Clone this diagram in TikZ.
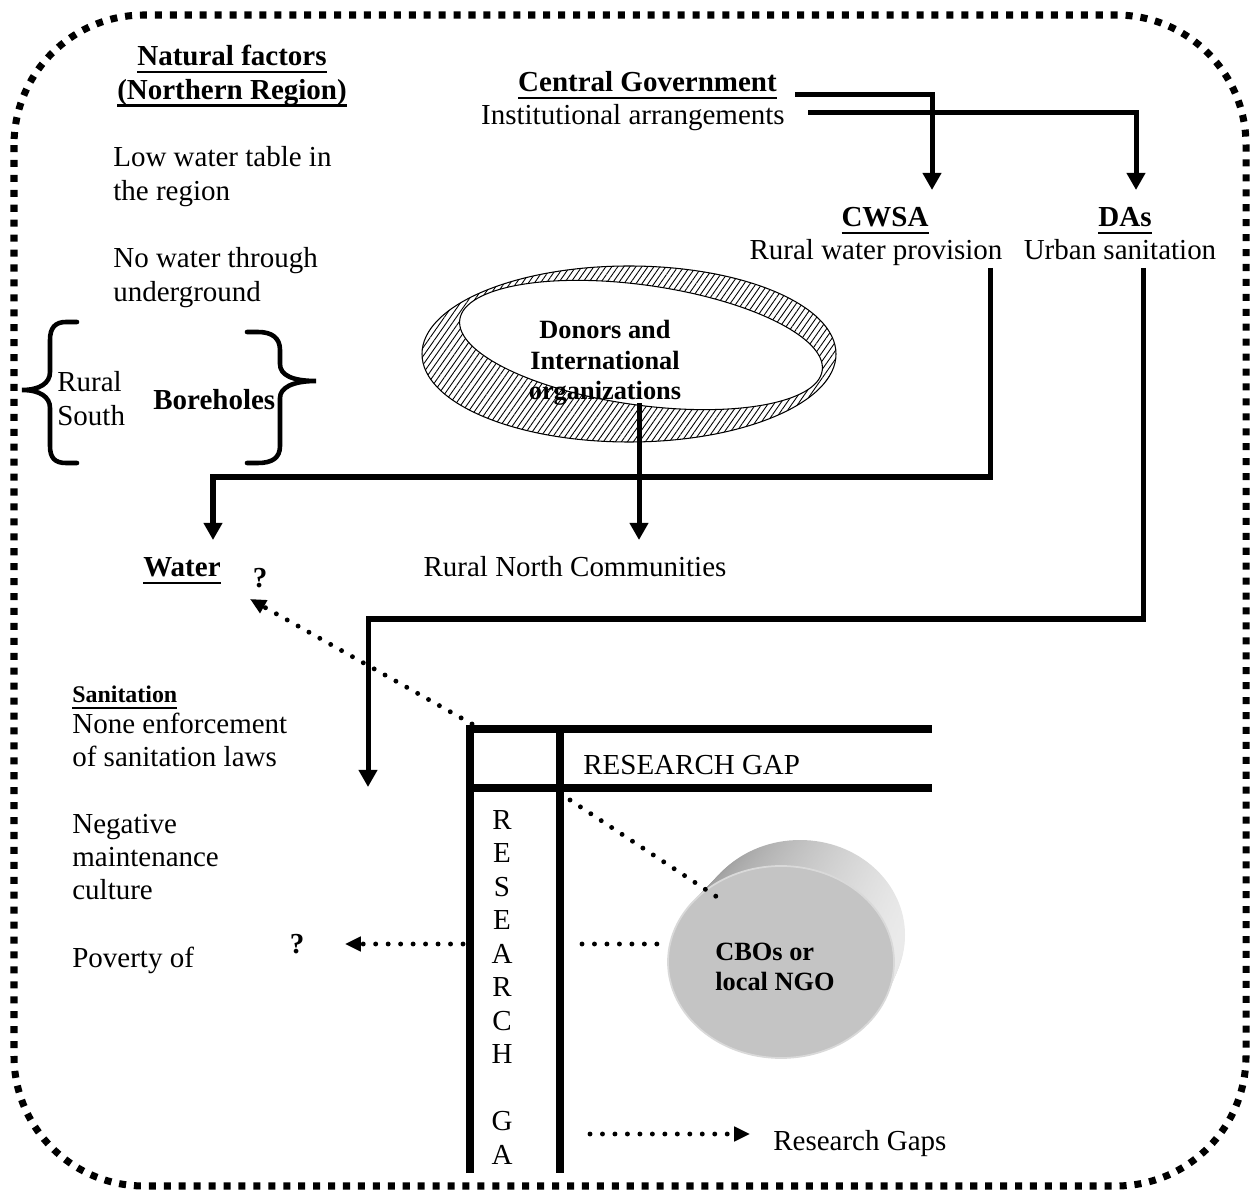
\documentclass[tikz,border=0pt]{standalone}
\usepackage{fontspec}
\setmainfont{Liberation Serif}
\usetikzlibrary{arrows.meta,patterns.meta}

% underlined text with a heavier rule
\newcommand{\ulbox}[1]{\setbox0=\hbox{#1}\rlap{\rule[-4.1pt]{\wd0}{1.5pt}}\box0}
% stacked lines whose baseline is the first line
\newcommand{\ltext}[1]{\vtop{\halign{##\hfil\cr#1\crcr}}}
\newcommand{\ctext}[1]{\vtop{\halign{\hfil##\hfil\cr#1\crcr}}}

\begin{document}
\begin{tikzpicture}[x=0.02cm, y=-0.02cm,
  txt/.style={inner sep=0pt, font=\fontsize{16.5}{19}\selectfont},
  btxt/.style={inner sep=0pt, font=\fontsize{16.5}{19}\selectfont\bfseries},
  sbold/.style={inner sep=0pt, font=\fontsize{15}{17.1}\selectfont\bfseries},
  conn/.style={line width=2.85pt},
  arr/.style={-{Triangle[length=9.7pt,width=10.2pt]}},
  dots/.style={line width=2.8pt, line cap=round, dash pattern=on 0pt off 7.1pt},
  dtip/.style={-{Triangle[length=9pt,width=8pt]}},
  frame/.style={line width=4pt},
  brace/.style={line width=2.6pt, line cap=round},
  border/.style={line width=4pt, dash pattern=on 4pt off 4.5pt, rounded corners=74pt}]

\useasboundingbox (0,0) rectangle (1251,1192);

% outer dotted boundary
\draw[border] (14,15) rectangle (1246,1186);

% ---- natural factors column
\node[btxt, anchor=base] (nat) at (232,66)
  {\ctext{\ulbox{Natural factors}\cr\ulbox{(Northern Region)}}};
\node[txt, anchor=base west] (low) at (113,167) {\ltext{Low water table in\cr the region}};
\node[txt, anchor=base west] (nowater) at (113,268) {\ltext{No water through\cr underground}};
\node[txt, anchor=base west] (rs) at (57,392) {\ltext{Rural\cr South}};
\node[btxt, anchor=base west] (bore) at (153,410) {Boreholes};

% curly brackets round the borehole group
\draw[brace] (77,322) -- (66,322) .. controls (55,322) and (50,328) .. (50,340)
  -- (50,372) .. controls (50,383) and (40,390) .. (22,390)
  .. controls (40,390) and (50,397) .. (50,408)
  -- (50,446) .. controls (50,458) and (55,463) .. (66,463) -- (77,463);
\draw[brace] (247,332) -- (258,332) .. controls (272,332) and (280,338) .. (280,350)
  -- (280,364) .. controls (280,375) and (292,381) .. (316,381)
  .. controls (292,381) and (280,388) .. (280,398)
  -- (280,446) .. controls (280,458) and (272,463) .. (258,463) -- (247,463);

% ---- government and agencies
\node[btxt, anchor=base east] (cg) at (777,92) {\ulbox{Central Government}};
\node[txt, anchor=base east] (inst) at (785,125) {Institutional arrangements};
\node[btxt, anchor=base] (cwsa) at (885,227) {\ulbox{CWSA}};
\node[txt, anchor=base] (cwsat) at (876,260) {Rural water provision};
\node[btxt, anchor=base] (das) at (1125,227) {\ulbox{DAs}};
\node[txt, anchor=base] (dast) at (1120,260) {Urban sanitation};

\coordinate (cg-out) at (795,95);
\coordinate (inst-out) at (808,113);
\coordinate (cwsa-in) at (932,190);
\coordinate (das-in) at (1136,190);
\coordinate (cwsa-out) at (990,268);
\coordinate (das-out) at (1143,268);
\coordinate (water-in) at (213,540);
\coordinate (san-in) at (368,787);

\draw[conn, arr] (cg-out) -| (cwsa-in);
\draw[conn, arr] (inst-out) -| (das-in);

% ---- donors ring
\path[pattern={Lines[angle=55, distance=2.8pt, line width=0.5pt]}, even odd rule]
  (629,354) ellipse[x radius=207, y radius=88]
  [rotate around={-8:(641,345)}] (641,345) ellipse[x radius=183, y radius=60];
\draw[line width=0.6pt] (629,354) ellipse[x radius=207, y radius=88];
\draw[line width=0.6pt, rotate around={-8:(641,345)}] (641,345) ellipse[x radius=183, y radius=60];
\node[sbold, anchor=base] (donors) at (605,339) {\ctext{Donors and\cr International\cr organizations}};
\coordinate (donors-out) at (639,403);
\coordinate (rnc-in) at (639,540);

\node[txt, anchor=base] (rnc) at (575,577) {Rural North Communities};
\node[btxt, anchor=base west] (water) at (143,577) {\ulbox{Water}};
\node[btxt, anchor=base] (q1) at (260,587) {?};

\draw[conn, arr] (cwsa-out) -- ++(0,209) -| (water-in);
\draw[conn, arr] (das-out) -- ++(0,351) -| (san-in);
\draw[conn, arr] (donors-out) -- (rnc-in);

% ---- sanitation column
\node[inner sep=0pt, font=\fontsize{13.6}{16}\selectfont\bfseries, anchor=base west] (sanh) at (72,702) {\ulbox{Sanitation}};
\node[txt, anchor=base west] (none) at (72,733) {\ltext{None enforcement\cr of sanitation laws}};
\node[txt, anchor=base west] (neg) at (72,833) {\ltext{Negative\cr maintenance\cr culture}};
\node[txt, anchor=base west] (pov) at (72,967) {Poverty of};
\node[btxt, anchor=base] (q2) at (297,953) {?};

% ---- research gap frame
\coordinate (rg-tl) at (470,729);
\draw[frame] (470,1173) -- (rg-tl) -- (932,729);
\draw[frame] (470,788) -- (932,788);
\draw[frame] (560,729) -- (560,1173);
\node[txt, anchor=base west] (rgh) at (583,774) {RESEARCH GAP};
\foreach \ch [count=\i] in {R,E,S,E,A,R,C,H,{},G,A}
  \node[txt, anchor=base] (vg\i) at ({502},{829+33.5*(\i-1)}) {\ch};

% ---- CBO disc
\foreach \t in {0,0.05,...,1.001}
  \shade[left color=black!42, right color=black!8]
    ({800-19*\t},{935+27*\t}) ellipse[x radius={105+8*\t}, y radius={95+1*\t}];
\draw[fill=black!23, draw=black!15, line width=1pt] (781,962) ellipse[x radius=113, y radius=96];
\node[sbold, anchor=base west] (cbo) at (715,960) {\ltext{CBOs or\cr local NGO}};

% ---- dotted links
\coordinate (q1-in) at (250,599);
\coordinate (q2-in) at (345,944);
\draw[dots, dtip] (472,724) -- (q1-in);
\draw[dots, dtip] (463,944) -- (q2-in);
\draw[dots] (570,800) -- (717,897);
\draw[dots] (582,944) -- (668,944);
\coordinate (key-start) at (590,1134);
\coordinate (key-end) at (750,1134);
\draw[dots, dtip] (key-start) -- (key-end);
\node[txt, anchor=base west] (rgaps) at (773,1150) {Research Gaps};

\end{tikzpicture}
\end{document}
